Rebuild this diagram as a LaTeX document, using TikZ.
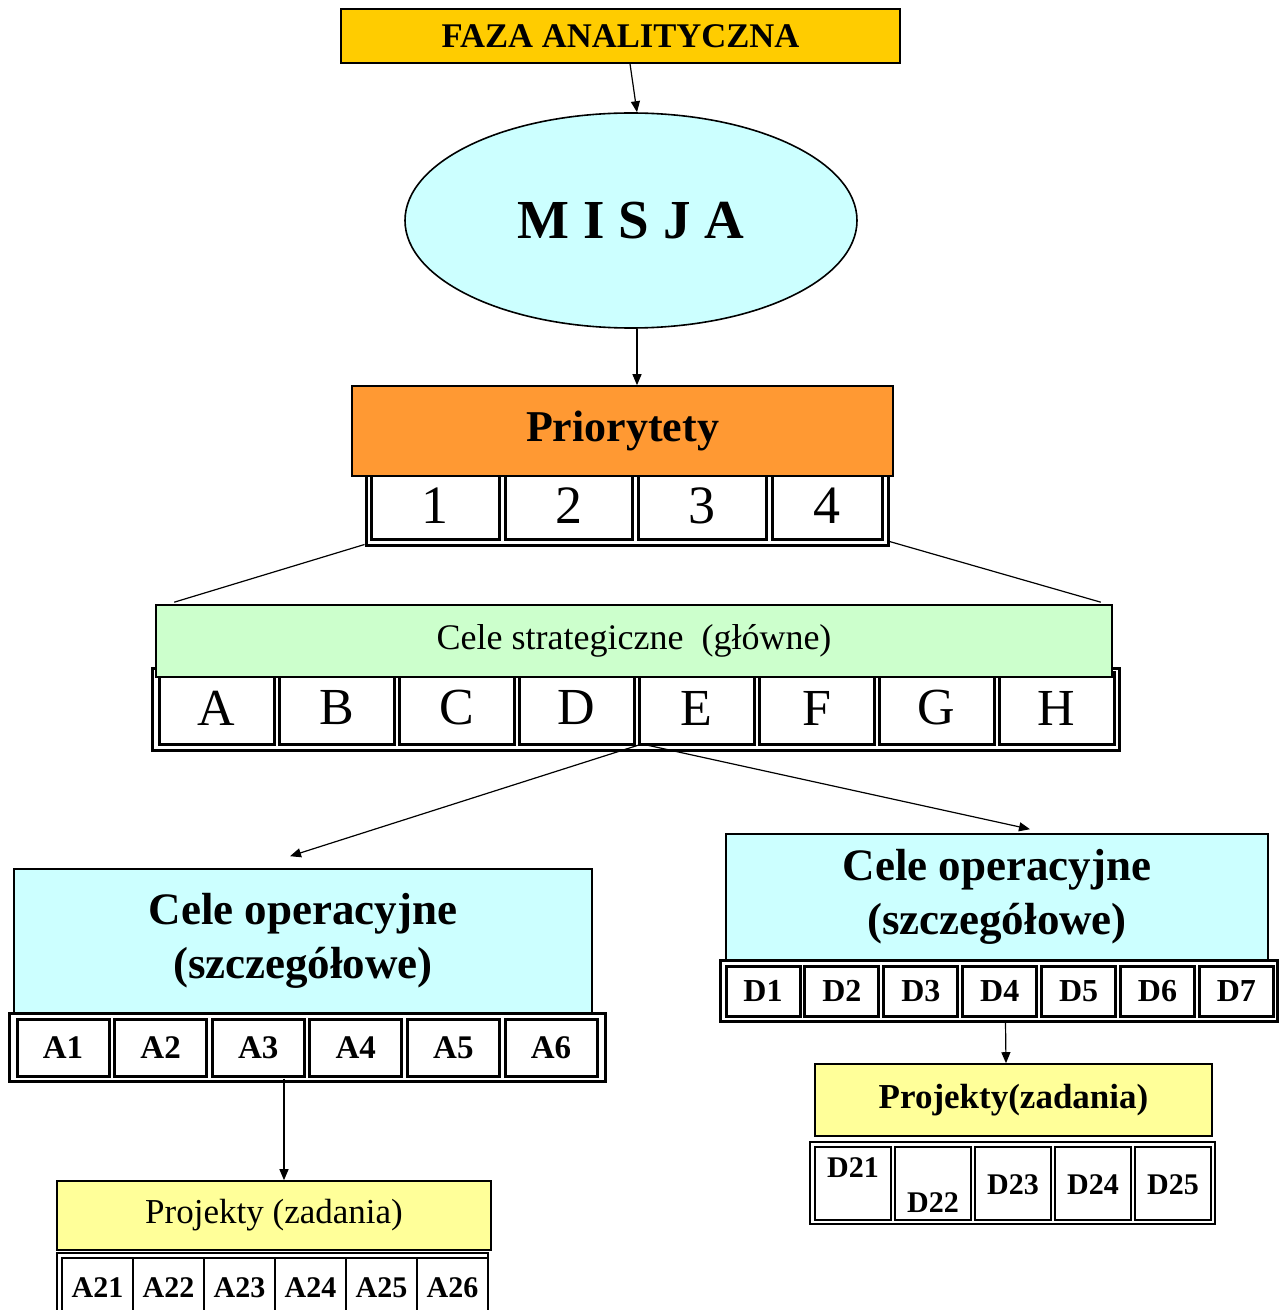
\documentclass[tikz,border=0pt]{standalone}
\usepackage{fontspec}
\setmainfont{Liberation Serif}
\usepackage{xcolor}
\usepackage{tikz}
\usetikzlibrary{positioning}
\usetikzlibrary{shapes.geometric}
\usetikzlibrary{arrows.meta}

\definecolor{fazaYellow}{HTML}{FFCC00}
\definecolor{misjaCyan}{HTML}{CCFFFF}
\definecolor{prioOrange}{HTML}{FF9933}
\definecolor{stratGreen}{HTML}{CCFFCC}
\definecolor{projYellow}{HTML}{FFFF99}

\begin{document}
\begin{tikzpicture}[x=0.5pt, y=-0.5pt,
  spot/.style n args={4}{minimum width=((#3)-(#1))*0.5pt, minimum height=((#4)-(#2))*0.5pt, at={({((#1)+(#3))/2},{((#2)+(#4))/2})}},
  box/.style={draw, line width=0.8pt, inner sep=0pt, align=center},
  frame/.style={draw, line width=1.5pt, inner sep=0pt},
  cell/.style={draw, line width=1.5pt, inner sep=0pt},
  thincell/.style={draw, line width=0.9pt, inner sep=0pt},
  arr/.style={line width=0.6pt, -{Triangle[length=5.5pt, width=4.5pt]}}]

\useasboundingbox (0,0) rectangle (1279,1310);
\clip (0,0) rectangle (1279,1310);

% tables first, the boxes lie over their top edges
\node (prioTab) [frame, spot={366}{470}{888}{545}] {};
\foreach \n/\xa/\xb in {1/371/499, 2/505/632, 3/638/766, 4/772/882}
  \node (prio\n) [cell, spot={\xa}{472}{\xb}{539}, font=\fontsize{27}{30}\selectfont] {\n};

\node (stratTab) [frame, spot={152}{668}{1119}{750}] {};
\foreach \n [count=\i from 0] in {A,B,C,D,E,F,G,H}
  \node (strat\n) [cell, spot={159+120*\i}{672}{274+120*\i}{744}, font=\fontsize{26}{30}\selectfont] {\n};

\node (opLTab) [frame, spot={9}{1013}{605}{1081}] {};
\foreach \n [count=\i from 0] in {A1,A2,A3,A4,A5,A6}
  \node (opL\n) [cell, spot={17+97.6*\i}{1019}{109+97.6*\i}{1076}, font=\bfseries\fontsize{16.5}{20}\selectfont] {\n};

\node (opRTab) [frame, spot={720}{960}{1277}{1021}] {};
\foreach \n [count=\i from 0] in {D1,D2,D3,D4,D5,D6,D7}
  \node (opR\n) [cell, spot={726+78.9*\i}{966}{800+78.9*\i}{1016}, font=\bfseries\fontsize{16}{20}\selectfont] {\n};

\node (prRTab) [thincell, spot={810}{1142}{1215}{1224}] {};
\foreach \n/\dy [count=\i from 0] in {D21/8, D22/-9.5, D23/-0.5, D24/-0.5, D25/-0.5} {
  \node (prR\n) [thincell, spot={815+80*\i}{1147}{891+80*\i}{1220}] {};
  \node (prR\n txt) [font=\bfseries\fontsize{15}{18}\selectfont] at ([yshift=\dy pt]prR\n.center) {\n};
}

\node (prLTab) [thincell, spot={57}{1253}{488}{1330}] {};
\foreach \n [count=\i from 0] in {A21,A22,A23,A24,A25,A26}
  \node (prL\n) [draw, line width=0.6pt, inner sep=0pt, spot={62+71*\i}{1258}{133+71*\i}{1318}, font=\bfseries\fontsize{15}{18}\selectfont] {\n};

% boxes
\node (faza) [box, fill=fazaYellow, spot={341}{9}{900}{63}, font=\bfseries\fontsize{17.3}{20}\selectfont] {FAZA ANALITYCZNA};

\node (misja) [ellipse, draw, line width=0.8pt, fill=misjaCyan, inner sep=0pt, minimum width=226pt, minimum height=107.5pt, font=\bfseries\fontsize{27.5}{30}\selectfont] at (631,220.5) {M I S J A};

\node (prio) [box, fill=prioOrange, spot={352}{386}{893}{476}, font=\bfseries\fontsize{22}{26}\selectfont] {Priorytety};

\node (strat) [box, fill=stratGreen, spot={156}{605}{1112}{677}, font=\fontsize{18}{22}\selectfont] {Cele strategiczne\ \ (główne)};

\node (opL) [box, fill=misjaCyan, spot={14}{869}{592}{1013}, font=\bfseries\fontsize{22.5}{27}\selectfont] {Cele operacyjne\\(szczegółowe)};

\node (opR) [box, fill=misjaCyan, spot={726}{834}{1268}{960}, font=\bfseries\fontsize{22.5}{27}\selectfont] {Cele operacyjne\\(szczegółowe)};

\node (prL) [box, fill=projYellow, spot={57}{1181}{491}{1250}, font=\fontsize{17.5}{21}\selectfont] {Projekty (zadania)};

\node (prR) [box, fill=projYellow, spot={815}{1064}{1212}{1136}, font=\bfseries\fontsize{17.5}{21}\selectfont] {Projekty(zadania)};

% connectors
\draw [arr] ([xshift=4.75pt]faza.south) -- ([xshift=3pt]misja.north);
\draw [arr] ([xshift=3pt]misja.south) -- ([xshift=7.25pt]prio.north);

\draw [line width=0.6pt] ([yshift=1pt]prioTab.south west) -- ([xshift=9.5pt, yshift=1pt]strat.north west);
\draw [line width=0.6pt] ([yshift=2.5pt]prioTab.south east) -- ([xshift=-6pt, yshift=1pt]strat.north east);

\coordinate (fork) at (642,744);
\draw [arr] (fork) -- ([xshift=-6.5pt, yshift=6pt]opL.north);
\draw [arr] (fork) -- ([xshift=16.5pt, yshift=2pt]opR.north);

\draw [arr] ([xshift=-11.5pt, yshift=2pt]opLTab.south) -- ([xshift=5pt]prL.north);
\draw [arr] ([xshift=3.5pt]opRTab.south) -- ([xshift=-3.75pt]prR.north);

\end{tikzpicture}
\end{document}
